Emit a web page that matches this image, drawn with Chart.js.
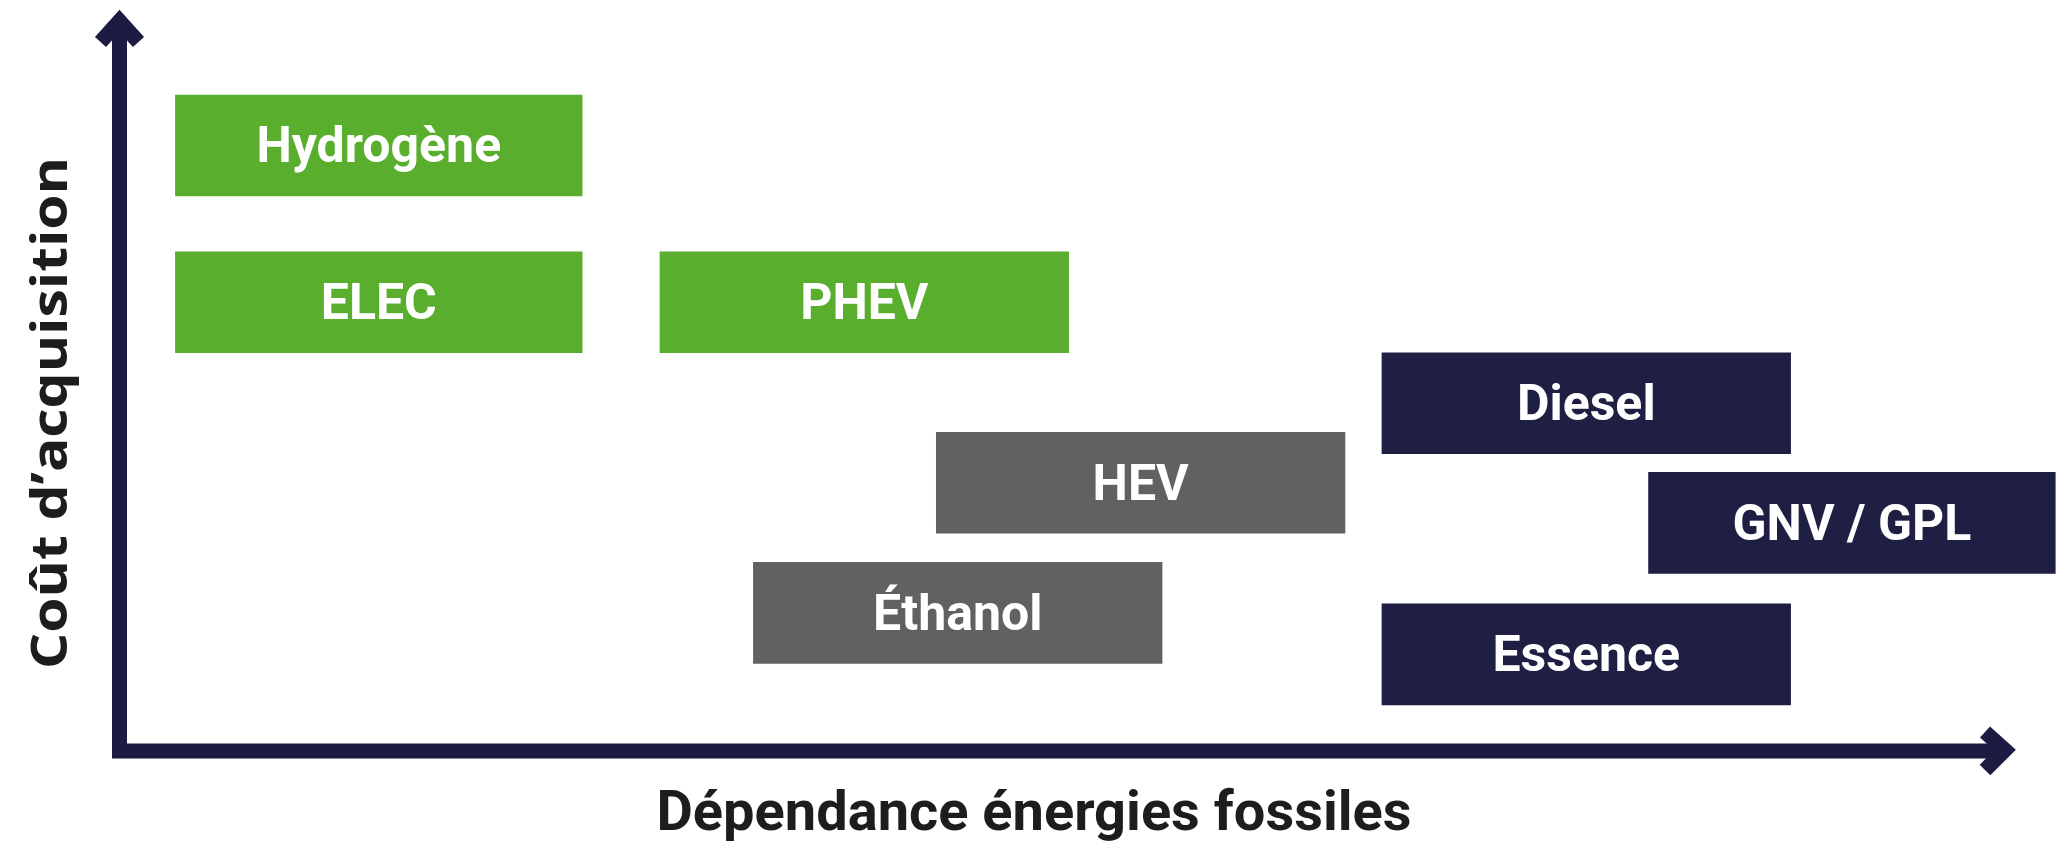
<!DOCTYPE html>
<html lang="fr">
<head>
<meta charset="utf-8">
<title>Coût d'acquisition / Dépendance énergies fossiles</title>
<script src="https://cdn.jsdelivr.net/npm/chart.js@4/dist/chart.umd.min.js"></script>
<style>
  html, body { margin: 0; padding: 0; background: #ffffff; }
  #wrap { position: relative; width: 2071px; height: 846px; }
</style>
</head>
<body>
<div id="wrap"><canvas id="chart"></canvas></div>
<script>
// Motorisations : position sur les deux axes (0-100)
const labels = ['Hydrogène', 'ELEC', 'PHEV', 'HEV', 'Éthanol', 'Diesel', 'GNV / GPL', 'Essence'];
const fossilStart = [2.9, 2.9, 27.8, 42.0, 32.6, 64.9, 78.6, 64.9];
const fossilEnd = [23.8, 23.8, 48.8, 63.0, 53.6, 85.9, 99.5, 85.9];
const costLevel = [81.5, 60.4, 60.4, 36.1, 18.6, 46.8, 30.7, 13.0];
const family = ['electrique', 'electrique', 'electrique', 'hybride', 'hybride', 'thermique', 'thermique', 'thermique'];

const xTitle = 'Dépendance énergies fossiles';
const yTitle = 'Coût d\u2019acquisition';

const familyColors = {
  electrique: '#5aae2e',
  hybride: '#616161',
  thermique: '#1f1f44'
};
const axisColor = '#1c1c42';

// Axes with arrow heads, drawn from the chart area
const arrowAxes = {
  id: 'arrowAxes',
  afterDatasetsDraw(chart) {
    const { ctx, chartArea } = chart;
    const x0 = chartArea.left + 0.5;
    const y0 = chartArea.bottom;
    const tipX = chartArea.right - 45;
    const tipY = chartArea.top;
    ctx.save();
    ctx.strokeStyle = axisColor;
    ctx.lineWidth = 15;
    ctx.lineJoin = 'miter';
    ctx.lineCap = 'butt';
    // L shaped axes
    ctx.beginPath();
    ctx.moveTo(x0, tipY + 16);
    ctx.lineTo(x0, y0);
    ctx.lineTo(tipX - 14, y0);
    ctx.stroke();
    // vertical arrow
    ctx.beginPath();
    ctx.moveTo(x0 - 19, tipY + 34);
    ctx.lineTo(x0, tipY + 13);
    ctx.lineTo(x0 + 19, tipY + 34);
    ctx.stroke();
    // horizontal arrow
    ctx.beginPath();
    ctx.moveTo(tipX - 35, y0 - 19);
    ctx.lineTo(tipX - 15, y0 - 1);
    ctx.lineTo(tipX - 35, y0 + 19);
    ctx.stroke();
    ctx.restore();
  }
};

// draw a title squeezed to a given length
function fitText(ctx, text, length) {
  const w = ctx.measureText(text).width;
  ctx.save();
  ctx.scale(length / w, 1);
  ctx.fillText(text, 0, 0);
  ctx.restore();
}

// Box labels and axis titles
const textLayer = {
  id: 'textLayer',
  afterDatasetsDraw(chart) {
    const { ctx } = chart;
    const meta = chart.getDatasetMeta(0);
    ctx.save();
    ctx.fillStyle = '#ffffff';
    ctx.font = 'bold 50px Roboto';
    ctx.textAlign = 'center';
    ctx.textBaseline = 'alphabetic';
    meta.data.forEach((bar, i) => {
      const cx = (bar.x + bar.base) / 2;
      ctx.fillText(labels[i], cx, bar.y + 17);
    });

    ctx.fillStyle = '#1d1d1d';
    ctx.font = 'bold 55px Roboto';
    ctx.save();
    ctx.translate(1034, 830);
    fitText(ctx, xTitle, 755);
    ctx.restore();

    ctx.translate(67, 413);
    ctx.rotate(-Math.PI / 2);
    ctx.font = 'bold 51px "Open Sans"';
    fitText(ctx, yTitle, 512);
    ctx.restore();
  }
};

const points = labels.map((name, i) => ({ x: [fossilStart[i], fossilEnd[i]], y: costLevel[i] }));

new Chart(document.getElementById('chart'), {
  type: 'bar',
  data: {
    labels: labels,
    datasets: [{
      data: points,
      backgroundColor: family.map(f => familyColors[f]),
      borderWidth: 0,
      barThickness: 101,
      borderSkipped: false
    }]
  },
  options: {
    indexAxis: 'y',
    responsive: true,
    maintainAspectRatio: false,
    animation: false,
    layout: {
      padding: { left: 119, right: 6, top: 8, bottom: 95 }
    },
    scales: {
      x: { type: 'linear', min: 0, max: 100, offset: false, display: false },
      y: { type: 'linear', min: 0, max: 100, offset: false, display: false }
    },
    plugins: {
      legend: { display: false },
      tooltip: { enabled: false }
    }
  },
  plugins: [arrowAxes, textLayer]
});
</script>
</body>
</html>
